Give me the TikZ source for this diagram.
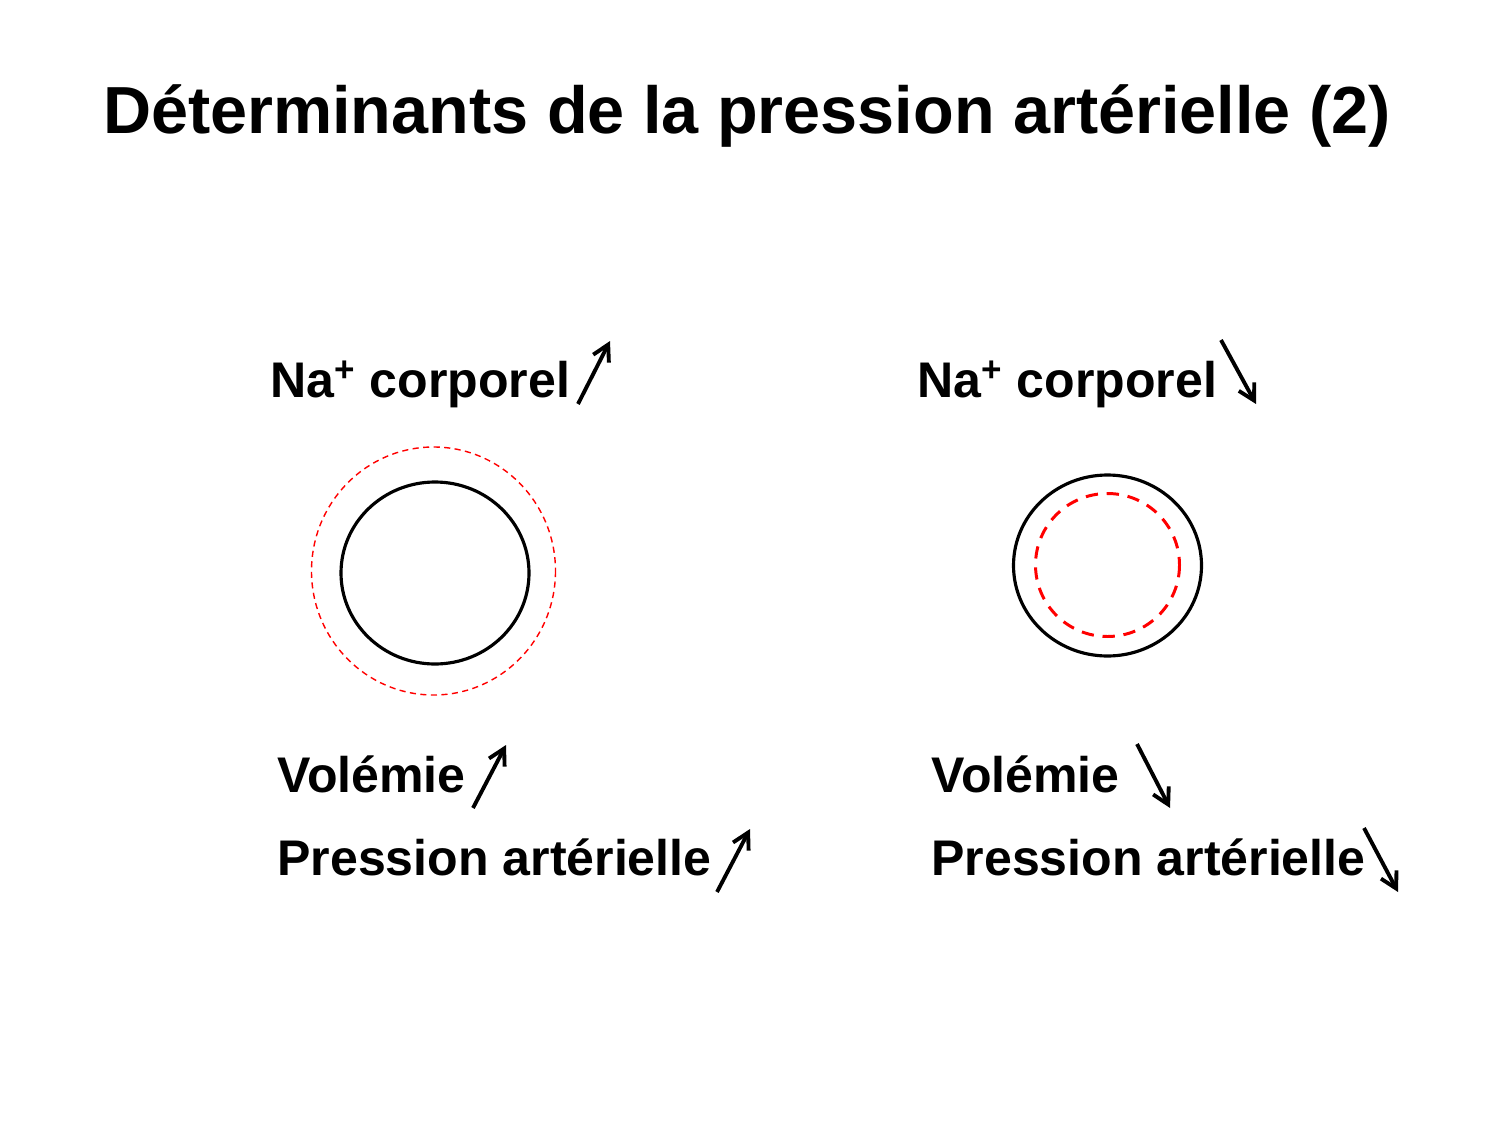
\documentclass[tikz,border=0pt]{standalone}
\usepackage{fontspec}
\setmainfont{Liberation Sans}
\usetikzlibrary{arrows.meta}
\begin{document}
\begin{tikzpicture}[x=0.02cm,y=-0.02cm,
  lbl/.style={anchor=base west,inner sep=0pt,font=\fontsize{28.5}{32}\selectfont\bfseries},
  ttl/.style={anchor=base,inner sep=0pt,font=\fontsize{37.9}{42}\selectfont\bfseries},
  trend/.style={line width=2.2pt,-{Straight Barb[length=9pt,width=10pt,line width=2.2pt]}},
  vessel/.style={draw=black,line width=1.8pt},
  thin/.style={draw=red,line width=0.8pt,dash pattern=on 3.5pt off 2.5pt},
  thick/.style={draw=red,line width=1.7pt,dash pattern=on 7pt off 5pt}]
\useasboundingbox (0,0) rectangle (1500,1125);
\node[ttl] (title) at (747,134) {Déterminants de la pression artérielle (2)};
% left
\node[lbl] (naL) at (270,397) {Na\textsuperscript{+} corporel};
\node[lbl] (volL) at (277,792) {Volémie};
\node[lbl] (paL) at (277,875) {Pression artérielle};
\draw[vessel] (435,573) ellipse [x radius=94,y radius=91];
\draw[thin] (433.5,571) ellipse [x radius=122,y radius=124];
\coordinate (a1) at (578,404); \coordinate (b1) at (610,341);
\coordinate (a2) at (473,808); \coordinate (b2) at (506,745);
\coordinate (a3) at (717,892); \coordinate (b3) at (750,829);
\draw[trend] (a1) -- (b1);
\draw[trend] (a2) -- (b2);
\draw[trend] (a3) -- (b3);
% right
\node[lbl] (naR) at (917,397) {Na\textsuperscript{+} corporel};
\node[lbl] (volR) at (931,792) {Volémie};
\node[lbl] (paR) at (931,875) {Pression artérielle};
\draw[vessel] (1107.5,565.5) ellipse [x radius=94,y radius=90.5];
\draw[thick] (1107.5,565) ellipse [x radius=72,y radius=71.5];
\coordinate (c1) at (1221,340); \coordinate (d1) at (1256,404);
\coordinate (c2) at (1137,744); \coordinate (d2) at (1170,808);
\coordinate (c3) at (1364,828); \coordinate (d3) at (1398,892);
\draw[trend] (c1) -- (d1);
\draw[trend] (c2) -- (d2);
\draw[trend] (c3) -- (d3);
\end{tikzpicture}
\end{document}
